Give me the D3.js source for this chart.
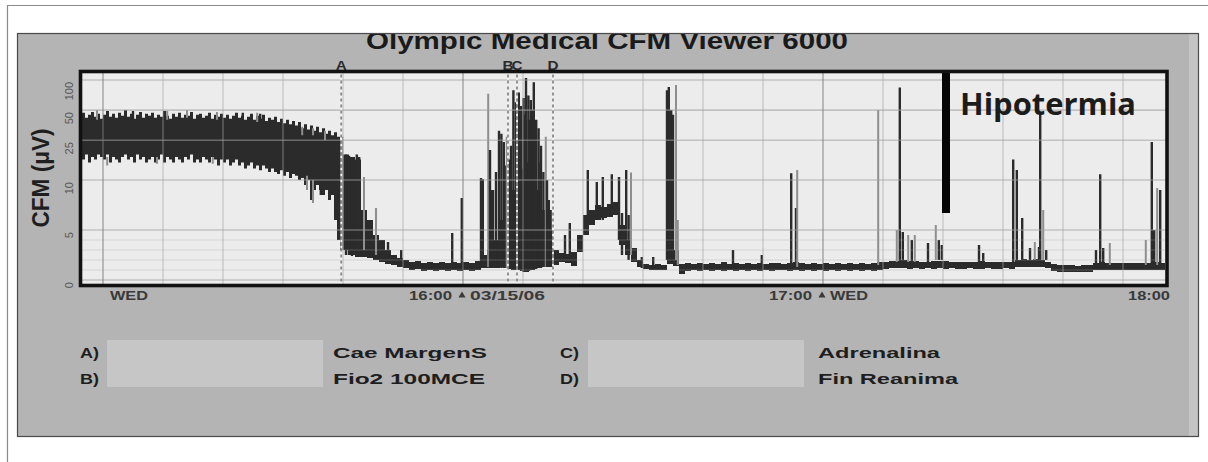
<!DOCTYPE html>
<html>
<head>
<meta charset="utf-8">
<script src="https://cdn.jsdelivr.net/npm/d3@7"></script>
<style>
  html, body { margin: 0; padding: 0; background: #fff; }
  svg { display: block; }
</style>
</head>
<body>
<svg id="chart" width="1208" height="462"></svg>
<script>
// ---------- data ----------
const yTicks = [0, 5, 10, 25, 50, 100];
const yMinorTicks = [1, 2, 3, 4];
const yMax = 120;

const hourTicks = ["15:00:00", "16:00:00", "17:00:00"];
const hourLabels = ["", "16:00", "17:00"];
const dayLabels = ["WED", "03/15/06", "WED"];
const endLabel = "18:00";

const eventNames = ["A", "B", "C", "D"];
const eventTimes = ["15:39:42", "16:07:30", "16:09:00", "16:15:00"];

const legendKeys = ["A)", "B)", "C)", "D)"];
const legendNotes = ["Cae MargenS", "Fio2 100MCE", "Adrenalina", "Fin Reanima"];

// quiet period, 30 s samples from 14:56:00 - upper / lower margin (µV)
const calmStart = "14:56:00";
const calmHi = [44, 47, 42, 45, 48, 43, 46, 41,
                45, 49, 43, 46, 42, 47, 44, 50,
                43, 46, 41, 45, 48, 42, 46, 44,
                47, 42, 45, 43, 49, 44, 41, 46,
                43, 47, 42, 45, 44, 48, 41, 45,
                46, 42, 44, 47, 41, 45, 43, 46,
                42, 45, 41, 44, 47, 42, 44, 40,
                43, 46, 40, 44, 41, 45, 39, 42,
                40, 43, 38, 41, 37, 40, 36, 39,
                35, 38, 33, 36, 32, 35, 31, 34,
                30, 33, 29, 31, 28, 30, 27, 25,
                18];
const calmLo = [17, 16, 18, 15, 17, 16, 18, 17,
                16, 18, 15, 17, 16, 15, 17, 18,
                16, 17, 15, 18, 16, 17, 15, 16,
                17, 15, 16, 18, 15, 17, 16, 15,
                17, 16, 15, 17, 16, 18, 15, 16,
                15, 17, 16, 15, 17, 16, 14, 16,
                15, 16, 14, 15, 16, 14, 15, 13,
                14, 15, 13, 14, 12.5, 14, 13, 12,
                13, 12, 11.5, 12.5, 11, 12, 10.5, 11.5,
                11, 10, 10.5, 9.5, 10, 8, 9, 9.5,
                9, 8.5, 9, 8, 8.5, 6, 4, 3,
                2.5];

// rest of the recording, 1 min samples from 15:40:00
const traceStart = "15:40:00";
const traceHi = [18, 17, 16, 7, 6, 4.5, 4, 3, 2.5, 2.2,
                 2.0, 1.8, 1.9, 1.7, 1.8, 1.7, 1.8, 1.7, 1.8, 1.7,
                 1.8, 1.7, 1.9, 2.5, 3, 4, 6, 8, 9, 13,
                 15, 13, 9, 7, 5, 3, 2.7, 2.6, 2.8, 4.5,
                 6.5, 7, 7.5, 7.3, 7.6, 7.8, 5.5, 4, 3.2, 2,
                 1.6, 1.5, 1.6, 1.5, 4, 3, 1.6, 1.7, 1.6, 1.7,
                 1.6, 1.7, 1.6, 1.8, 1.6, 1.7, 1.6, 1.7, 1.6, 1.7,
                 1.6, 1.7, 1.7, 1.6, 1.7, 1.8, 1.7, 1.6, 1.7, 1.6,
                 1.7, 1.6, 1.7, 1.6, 1.7, 1.6, 1.7, 1.6, 1.7, 1.8,
                 1.8, 1.9, 1.9, 2.0, 1.9, 1.9, 1.8, 1.8, 1.9, 1.9,
                 1.9, 1.8, 1.8, 1.8, 1.8, 1.8, 1.9, 1.8, 1.8, 1.8,
                 1.8, 1.8, 2.0, 2.1, 2.0, 2.1, 2.0, 1.8, 1.6, 1.5,
                 1.5, 1.5, 1.4, 1.5, 1.5, 1.7, 1.8, 1.7, 1.7, 1.7,
                 1.7, 1.7, 1.7, 1.7, 1.7, 1.8, 1.7, 1.7];
const traceLo = [3, 2.5, 2.3, 2.3, 2.2, 2.0, 1.8, 1.6, 1.5, 1.3,
                 1.2, 1.0, 1.1, 0.9, 1.0, 0.9, 1.0, 0.9, 1.0, 0.9,
                 1.0, 0.9, 1.0, 1.2, 1.2, 1.2, 1.3, 1.2, 1.0, 1.0,
                 0.8, 1.0, 1.2, 1.3, 1.3, 1.5, 1.8, 1.7, 1.4, 2.8,
                 4.5, 5.5, 6, 6.2, 6.3, 6.5, 3.5, 2.5, 1.8, 1.3,
                 1.1, 1.0, 1.0, 1.0, 1.6, 1.4, 0.6, 0.9, 1.0, 0.9,
                 1.0, 0.9, 1.0, 0.9, 1.0, 0.9, 1.0, 0.9, 1.0, 0.9,
                 1.0, 0.9, 1.0, 1.0, 0.9, 1.0, 0.9, 1.0, 0.9, 1.0,
                 0.9, 1.0, 0.9, 1.0, 0.9, 1.0, 0.9, 1.0, 0.9, 1.0,
                 1.1, 1.2, 1.2, 1.2, 1.1, 1.2, 1.1, 1.2, 1.1, 1.2,
                 1.1, 1.2, 1.1, 1.1, 1.2, 1.1, 1.1, 1.2, 1.1, 1.1,
                 1.2, 1.1, 1.3, 1.3, 1.3, 1.3, 1.3, 1.2, 0.9, 0.8,
                 0.8, 0.8, 0.8, 0.8, 0.8, 1.0, 1.0, 1.0, 1.0, 1.0,
                 1.0, 1.0, 1.0, 1.0, 1.0, 1.0, 1.0, 1.0];

// isolated excursions: minutes after 15:00, peak, foot (µV), tone (d = dark, l = light)
const burstMin = [-1.0, 5.0, 10.7, 14.0, 19.0, 23.3, 25.7, 26.2, 33.2, 35.0, 37.0,
                  0.7, 9.0, 18.3, 34.0, 35.0, 36.3,
                  39.9, 40.5, 41.0, 41.5, 42.3, 42.7, 43.5, 45.5, 47.5, 49.7, 58.2, 59.8,
                  63.0, 63.3, 64.2, 64.5, 64.8, 65.0, 65.5, 66.0, 66.4, 66.8, 67.0, 67.3, 67.7,
                  68.0, 68.4, 68.8, 69.0, 69.3, 69.7, 70.1, 70.3, 70.5, 70.9, 71.0, 71.3, 71.5,
                  71.8, 72.0, 72.2, 72.6, 72.9, 73.0, 73.4, 73.8, 74.0, 74.3, 74.6,
                  77.0, 77.8, 80.8, 82.3, 83.3, 84.8, 86.0, 86.5, 87.2, 87.6, 88.0, 89.8, 91.7,
                  94.0, 94.3, 94.7, 95.0, 95.5, 95.8,
                  105.0, 109.8, 114.7, 115.5, 115.7, 129.2, 132.3, 132.8, 133.3, 134.2, 134.8,
                  135.3, 137.5, 138.8, 139.3, 139.8, 146.0, 146.7, 151.7, 152.3, 153.2, 154.5,
                  155.3, 156.0, 156.2, 156.7, 157.2, 165.5, 166.2, 166.7, 167.8, 173.8, 174.8,
                  175.2, 175.7, 176.2];
const burstTop = [50, 49, 49, 50, 48, 47, 47, 46, 34, 33, 31,
                  17, 17, 17, 11, 10, 10,
                  27, 18, 17.5, 16, 18, 17, 10.7, 7.2, 3.8, 3, 4.7, 8.2,
                  10.5, 10.2, 73, 20, 9, 9, 12, 31, 29, 24, 14, 27, 16,
                  22, 79, 60, 30, 75, 55, 66, 45, 105, 70, 40, 63, 50,
                  95, 25, 40, 33, 15, 22, 12, 27, 10, 8, 7,
                  4.5, 5.7, 12.6, 9.8, 10.7, 11.4, 10.7, 6.7, 12.6, 6.5, 11.9, 2.3, 2.3,
                  79, 85, 50, 45, 89, 6,
                  3, 2.5, 11.7, 7.2, 12.6, 50, 5, 84, 4.8, 4.5, 4.0,
                  4.5, 3.7, 5.5, 4.0, 3.5, 3.5, 2.7, 16, 12.6, 6.2, 3.2,
                  3.8, 3.3, 45, 7, 3, 3.0, 11.4, 3.2, 3.7, 4.0, 24,
                  5, 9.2, 9];
const burstFoot = [40, 40, 40, 42, 40, 40, 38, 38, 28, 28, 25,
                   14, 14.5, 14.5, 9, 7.7, 8.5,
                   3, 2.5, 2.5, 2.4, 2.3, 2.3, 3, 2.5, 1.8, 1.5, 1.2, 1.2,
                   1.2, 1.2, 1.3, 1.2, 1.2, 1.2, 1.2, 1.2, 1.2, 1.2, 1.2, 1.2, 1.1,
                   1.1, 1.0, 1.0, 1.0, 1.0, 0.9, 0.8, 0.8, 0.8, 0.9, 0.9, 1.0, 1.0,
                   1.0, 1.1, 1.1, 1.2, 1.2, 1.2, 1.3, 1.3, 1.3, 1.3, 1.4,
                   2, 2, 6, 6, 6, 6.5, 4, 2.5, 3, 2, 2.5, 1.2, 1.2,
                   2, 2, 2.3, 2.3, 2, 1.5,
                   1.2, 1.2, 1.3, 1.3, 1.3, 1.5, 1.8, 1.5, 1.8, 1.8, 1.8,
                   1.8, 1.8, 2, 2, 2, 1.8, 1.8, 1.8, 1.8, 1.8, 2,
                   2, 2, 2, 2, 2, 1.5, 1.5, 1.5, 1.5, 1.5, 1.5,
                   1.5, 1.5, 1.5];
const burstTone = ["l","d","l","l","l","d","l","d","l","l","l",
                   "l","l","l","l","l","d",
                   "l","d","d","d","d","d","l","l","d","d","d","d",
                   "d","d","l","d","d","d","d","d","d","d","d","l","d",
                   "d","d","d","d","d","d","d","d","d","d","d","d","d",
                   "d","d","d","d","d","d","d","l","d","d","d",
                   "d","d","d","d","d","d","d","d","d","d","l","d","d",
                   "d","d","d","d","l","l",
                   "d","d","d","d","l","l","l","d","d","l","d",
                   "l","d","l","d","d","d","d","d","d","d","d",
                   "l","d","d","l","d","d","d","d","l","l","d",
                   "d","l","d"];

const hypoTime = "17:20:30";
const hypoFoot = 6.7;
const hypoLabel = "Hipotermia";

const titleText = "Olympic Medical CFM Viewer 6000";
const yLabel = "CFM (μV)";

// ---------- scales ----------
const svg = d3.select("#chart");
const font = "'Liberation Sans', Arial, sans-serif";
const parse = d3.timeParse("%H:%M:%S");
const origin = parse("15:00:00");
const at = m => d3.timeSecond.offset(origin, Math.round(m * 60));

const plot = { left: 80.5, right: 1167, top: 71.5, bottom: 285.5 };
const x = d3.scaleTime()
  .domain([at(-23 / 6), at(-23 / 6 + 1087 / 6)])
  .range([80, 1167]);
// amplitude axis: linear 0-10 µV, logarithmic above 10 µV
const yLin = d3.scaleLinear().domain([0, 10]).range([280, 180]);
const yLog = d3.scaleLog().domain([10, 100]).range([180, 80]);
const y = v => (v <= 10 ? yLin(v) : yLog(v));

// ---------- frame and panel ----------
svg.append("path")
  .attr("d", "M7.5,462 L7.5,5.5 L1208,5.5")
  .attr("fill", "none").attr("stroke", "#8a8a8a").attr("stroke-width", 1.2);

const defs = svg.append("defs");
defs.append("clipPath").attr("id", "panelClip")
  .append("rect").attr("x", 17.5).attr("y", 33.5).attr("width", 1181).attr("height", 403);
defs.append("clipPath").attr("id", "plotClip")
  .append("rect").attr("x", plot.left).attr("y", plot.top)
  .attr("width", plot.right - plot.left).attr("height", plot.bottom - plot.top);

svg.append("rect")
  .attr("x", 17.5).attr("y", 33.5).attr("width", 1181).attr("height", 403)
  .attr("fill", "#b4b4b4");
svg.append("rect")
  .attr("x", 1189).attr("y", 34).attr("width", 9).attr("height", 402)
  .attr("fill", "#c4c4c4");

// title
svg.append("g").attr("clip-path", "url(#panelClip)")
  .append("text")
  .attr("x", 366).attr("y", 49)
  .attr("font-family", font).attr("font-weight", "bold").attr("font-size", 23)
  .attr("fill", "#1a1a1a")
  .attr("textLength", 482).attr("lengthAdjust", "spacingAndGlyphs")
  .text(titleText);

svg.append("rect")
  .attr("x", 17.5).attr("y", 33.5).attr("width", 1181).attr("height", 403)
  .attr("fill", "none").attr("stroke", "#4a4a4a").attr("stroke-width", 1.2);

// ---------- plot area ----------
svg.append("rect")
  .attr("x", plot.left).attr("y", plot.top)
  .attr("width", plot.right - plot.left).attr("height", plot.bottom - plot.top)
  .attr("fill", "#ececec");

const data = svg.append("g").attr("clip-path", "url(#plotClip)");

const calm = calmHi.map((h, i) => ({
  t: d3.timeSecond.offset(parse(calmStart), 30 * i), hi: h, lo: calmLo[i]
}));
const trace = traceHi.map((h, i) => ({
  t: d3.timeMinute.offset(parse(traceStart), i), hi: h, lo: traceLo[i]
}));

const band = d3.area()
  .x(d => x(d.t)).y0(d => y(d.lo)).y1(d => y(d.hi))
  .curve(d3.curveStepAfter);

data.append("path").datum(calm).attr("d", band).attr("fill", "#2b2b2b");
data.append("path").datum(trace).attr("d", band).attr("fill", "#2b2b2b");

const bursts = burstMin.map((m, i) => ({
  t: at(m), top: burstTop[i], foot: burstFoot[i], tone: burstTone[i]
}));
data.selectAll("line.burst").data(bursts).join("line")
  .attr("class", "burst")
  .attr("x1", d => x(d.t)).attr("x2", d => x(d.t))
  .attr("y1", d => y(d.foot)).attr("y2", d => y(d.top))
  .attr("stroke", d => (d.tone === "d" ? "#2b2b2b" : "#8e8e8e"))
  .attr("stroke-width", d => (d.tone === "d" ? 2.4 : 2));

// grid drawn over the trace
const grid = svg.append("g").attr("clip-path", "url(#plotClip)");
grid.selectAll("line.hmaj").data(yTicks).join("line")
  .attr("x1", plot.left).attr("x2", plot.right)
  .attr("y1", d => y(d)).attr("y2", d => y(d))
  .attr("stroke", "rgb(160,160,160)").attr("stroke-opacity", 0.55).attr("stroke-width", 1.6);
grid.selectAll("line.hmin").data(yMinorTicks).join("line")
  .attr("x1", plot.left).attr("x2", plot.right)
  .attr("y1", d => y(d)).attr("y2", d => y(d))
  .attr("stroke", "rgb(170,170,170)").attr("stroke-opacity", 0.35).attr("stroke-width", 1);

const tenMin = x.ticks(d3.timeMinute.every(10));
grid.selectAll("line.v").data(tenMin).join("line")
  .attr("x1", d => x(d)).attr("x2", d => x(d))
  .attr("y1", plot.top).attr("y2", plot.bottom)
  .attr("stroke", d => (d.getMinutes() === 0 ? "rgb(120,120,120)" : "rgb(165,165,165)"))
  .attr("stroke-opacity", d => (d.getMinutes() === 0 ? 0.6 : 0.45))
  .attr("stroke-width", 1.5);

// event markers
const events = eventNames.map((n, i) => ({ name: n, t: parse(eventTimes[i]) }));
grid.selectAll("line.evw").data(events).join("line")
  .attr("x1", d => x(d.t)).attr("x2", d => x(d.t))
  .attr("y1", plot.top).attr("y2", plot.bottom)
  .attr("stroke", "#f4f4f4").attr("stroke-width", 1.8).attr("stroke-dasharray", "3,3");
grid.selectAll("line.evg").data(events).join("line")
  .attr("x1", d => x(d.t)).attr("x2", d => x(d.t))
  .attr("y1", plot.top).attr("y2", plot.bottom)
  .attr("stroke", "#8a8a8a").attr("stroke-width", 1.8)
  .attr("stroke-dasharray", "3,3").attr("stroke-dashoffset", 3);

svg.selectAll("text.ev").data(events).join("text")
  .attr("class", "ev")
  .attr("x", d => x(d.t)).attr("y", 69.5)
  .attr("text-anchor", "middle")
  .attr("font-family", font).attr("font-weight", "bold").attr("font-size", 12)
  .attr("fill", "#2a2a2a")
  .attr("textLength", 11).attr("lengthAdjust", "spacingAndGlyphs")
  .text(d => d.name);

// hypothermia marker
const hx = x(parse(hypoTime));
svg.append("rect")
  .attr("x", hx - 4).attr("width", 8)
  .attr("y", y(yMax)).attr("height", y(hypoFoot) - y(yMax))
  .attr("fill", "#050505");
svg.append("text")
  .attr("x", 960).attr("y", 115)
  .attr("font-family", "'Open Sans', sans-serif").attr("font-weight", 700).attr("font-size", 30)
  .attr("fill", "#1c1c1c")
  .attr("textLength", 176).attr("lengthAdjust", "spacingAndGlyphs")
  .text(hypoLabel);

// plot border
svg.append("rect")
  .attr("x", plot.left).attr("y", plot.top)
  .attr("width", plot.right - plot.left).attr("height", plot.bottom - plot.top)
  .attr("fill", "none").attr("stroke", "#111").attr("stroke-width", 3.6);

// ---------- axes ----------
const yAxis = svg.append("g");
yAxis.selectAll("text").data(yTicks).join("text")
  .attr("transform", d => `translate(73,${y(d) + 2}) rotate(-90)`)
  .attr("text-anchor", "end")
  .attr("font-family", font).attr("font-size", 11)
  .attr("fill", "#555")
  .text(d => d);

svg.append("text")
  .attr("transform", "translate(41,178) scale(1.3,1) rotate(-90)")
  .attr("text-anchor", "middle").attr("dominant-baseline", "central")
  .attr("font-family", font).attr("font-weight", "bold").attr("font-size", 19)
  .attr("fill", "#1e1e1e")
  .attr("textLength", 99).attr("lengthAdjust", "spacingAndGlyphs")
  .text(yLabel);

const hours = hourTicks.map((h, i) => ({ t: parse(h), hour: hourLabels[i], day: dayLabels[i] }));
const xAxis = svg.append("g")
  .attr("font-family", font).attr("font-weight", "bold").attr("font-size", 12)
  .attr("fill", "#3a3a3a");
xAxis.selectAll("text.hour").data(hours.filter(d => d.hour)).join("text")
  .attr("class", "hour")
  .attr("x", d => x(d.t) - 11).attr("y", 300)
  .attr("text-anchor", "end")
  .attr("textLength", 43).attr("lengthAdjust", "spacingAndGlyphs")
  .text(d => d.hour);
xAxis.selectAll("path.mark").data(hours.filter(d => d.hour)).join("path")
  .attr("class", "mark")
  .attr("transform", d => `translate(${x(d.t) - 1},295.5)`)
  .attr("d", d3.symbol(d3.symbolTriangle, 22)());
xAxis.selectAll("text.day").data(hours).join("text")
  .attr("class", "day")
  .attr("x", d => x(d.t) + 7).attr("y", 300)
  .attr("textLength", d => (d.day.length > 3 ? 75 : 38)).attr("lengthAdjust", "spacingAndGlyphs")
  .text(d => d.day);
xAxis.append("text")
  .attr("x", x.range()[1] + 3).attr("y", 300)
  .attr("text-anchor", "end")
  .attr("textLength", 42).attr("lengthAdjust", "spacingAndGlyphs")
  .text(endLabel);

// ---------- event notes ----------
const notes = svg.append("g")
  .attr("font-family", font).attr("font-weight", "bold").attr("font-size", 15)
  .attr("fill", "#1e1e1e");
const noteCols = [{ key: 80, box: 107, text: 333 }, { key: 560, box: 588, text: 818 }];
const noteRows = [353, 379];
noteCols.forEach(c => {
  notes.append("rect")
    .attr("x", c.box).attr("y", 340).attr("width", 216).attr("height", 47)
    .attr("fill", "#c6c6c6");
});
const noteLens = [154, 152, 122, 140];
legendKeys.forEach((k, i) => {
  const col = noteCols[Math.floor(i / 2)];
  const row = noteRows[i % 2];
  notes.append("text")
    .attr("x", col.key).attr("y", row).attr("dy", "0.35em")
    .attr("textLength", 19).attr("lengthAdjust", "spacingAndGlyphs")
    .text(k);
  notes.append("text")
    .attr("x", col.text).attr("y", row).attr("dy", "0.35em")
    .attr("textLength", noteLens[i]).attr("lengthAdjust", "spacingAndGlyphs")
    .text(legendNotes[i]);
});
</script>
</body>
</html>
